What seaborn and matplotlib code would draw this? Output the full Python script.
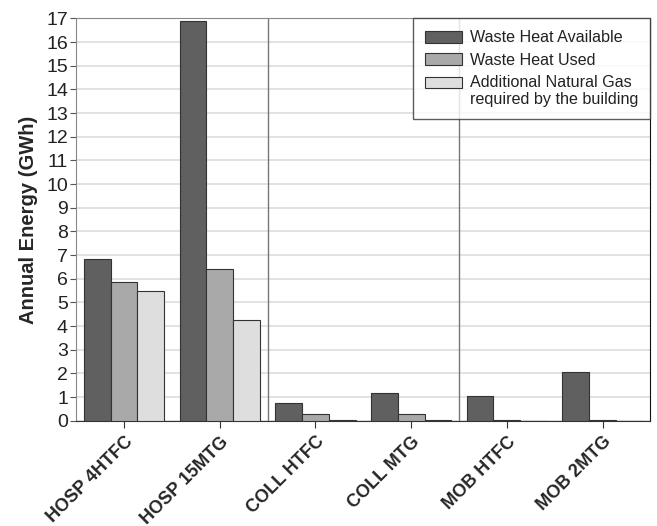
import pandas as pd
import matplotlib.pyplot as plt
import seaborn as sns

# values
sites = ['HOSP 4HTFC', 'HOSP 15MTG', 'COLL HTFC', 'COLL MTG', 'MOB HTFC', 'MOB 2MTG']
series = ['Waste Heat Available', 'Waste Heat Used',
          'Additional Natural Gas\nrequired by the building']
heat_available = [6.85, 16.9, 0.75, 1.17, 1.03, 2.08]
heat_used = [5.85, 6.4, 0.27, 0.27, 0.03, 0.03]
extra_gas = [5.5, 4.27, 0.03, 0.03, 0.0, 0.0]

df = pd.DataFrame({
    'Site': sites * 3,
    'Series': [series[0]] * 6 + [series[1]] * 6 + [series[2]] * 6,
    'Energy': heat_available + heat_used + extra_gas,
})

sns.set_style('white')
plt.rcParams['font.family'] = ['Liberation Sans', 'DejaVu Sans']

fig, ax = plt.subplots(figsize=(6.57, 5.26), dpi=100)
palette = ['#606060', '#a9a9a9', '#dedede']
sns.barplot(data=df, x='Site', y='Energy', hue='Series', palette=palette,
            width=0.84, edgecolor='#333333', linewidth=0.8, saturation=1,
            ax=ax, zorder=3)

ax.set_ylim(0, 17)
ax.set_xlim(-0.5, 5.5)
ax.set_yticks(range(0, 18))
ax.yaxis.grid(True, color='#dddddd', linewidth=1.2, zorder=0)
ax.set_axisbelow(True)

# separators between building types
for x in (1.5, 3.5):
    ax.axvline(x, color='#777777', linewidth=1, zorder=2)

for side in ('left', 'top'):
    ax.spines[side].set_color('#888888')
ax.spines['bottom'].set_color('#333333')
ax.spines['right'].set_color('#111111')

ax.tick_params(axis='y', labelsize=14, length=4, color='#555555', direction='out',
               left=True, pad=2, labelcolor='#222222')
ax.tick_params(axis='x', length=5, color='#333333', bottom=True, pad=4)
plt.setp(ax.get_xticklabels(), rotation=45, ha='right', rotation_mode='anchor',
         fontweight='bold', fontsize=13)

ax.set_xlabel('')
ax.set_ylabel('Annual Energy (GWh)', fontsize=14.5, fontweight='bold', labelpad=6)

leg = ax.legend(loc='upper right', fontsize=11.6, frameon=True, fancybox=False,
                borderaxespad=0, handlelength=2.3, handleheight=0.75,
                labelspacing=0.45, borderpad=0.75, handletextpad=0.5)
leg.get_frame().set_edgecolor('#333333')
leg.get_frame().set_linewidth(1)
for t in leg.get_texts():
    t.set_color('#222222')
# align the two-line entry's swatch with its first line
last = leg.legend_handles[2]
last.set_y(last.get_y() + 6.5)

fig.subplots_adjust(left=0.116, right=0.99, top=0.965, bottom=0.2)
fig.savefig('out.png', dpi=100)
